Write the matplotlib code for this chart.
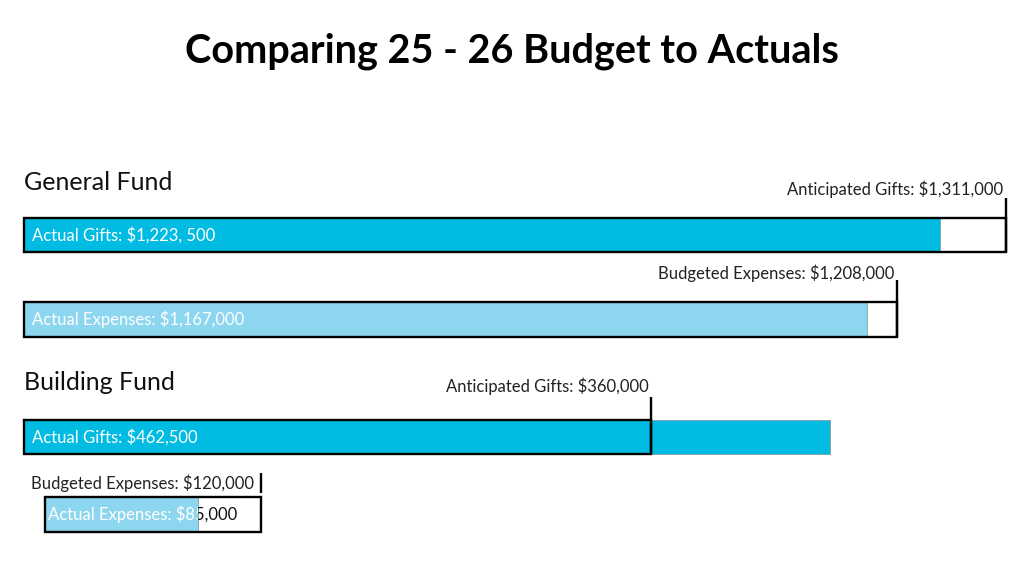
import matplotlib
matplotlib.use("Agg")
import matplotlib.pyplot as plt
from matplotlib.patches import Rectangle

# ---- data ----
funds = ["General Fund", "Building Fund"]
target_labels = ["Anticipated Gifts: $1,311,000", "Budgeted Expenses: $1,208,000",
                 "Anticipated Gifts: $360,000", "Budgeted Expenses: $120,000"]
actual_labels = ["Actual Gifts: $1,223, 500", "Actual Expenses: $1,167,000",
                 "Actual Gifts: $462,500", "Actual Expenses: $85,000"]
targets = [1311000, 1208000, 360000, 120000]
actuals = [1223500, 1167000, 462500, 85000]
title = "Comparing 25 - 26 Budget to Actuals"

# ---- layout (pixels) ----
W, H = 1024, 576
row_left = [24, 24, 24, 45]
row_right = [1006, 897, 830, 261]
row_xmax = [1311000, 1208000, 462500, 120000]
row_top = [218, 302, 420, 497]
row_bot = [252, 337, 454, 532]
marker_span = [(0, 1.59), (0, 1.63), (0, 1.68), (1.11, 1.69)]
label_y = [1.85, 1.83, 2.0, 1.40]
label_dx = [-2, -2, -2, -5]

BRIGHT = "#00BCE3"
LIGHT = "#8DD6EF"
fills = [BRIGHT, LIGHT, BRIGHT, LIGHT]

plt.rcParams["font.family"] = ["Lato", "DejaVu Sans"]
fig = plt.figure(figsize=(W / 100, H / 100), dpi=100)
fig.patch.set_facecolor("white")

fig.text(0.5, 1 - 51 / H, title, ha="center", va="center",
         fontsize=28.5, fontweight="bold", color="black")
fig.text(24 / W, 1 - 182 / H, funds[0], ha="left", va="center", fontsize=18, color="#111111")
fig.text(24 / W, 1 - 383 / H, funds[1], ha="left", va="center", fontsize=18, color="#111111")

for i in range(4):
    l, r, t, b = row_left[i], row_right[i], row_top[i], row_bot[i]
    ax = fig.add_axes([l / W, 1 - b / H, (r - l) / W, (b - t) / H])
    ax.set_xlim(0, row_xmax[i])
    ax.set_ylim(0, 1)
    ax.axis("off")
    # actual fill bar
    bars = ax.barh([0.5], [actuals[i]], height=1.0, left=0, color=fills[i],
                   edgecolor="#8a9aa0", linewidth=0.6, clip_on=False, zorder=2)
    fill_patch = bars.patches[0]
    # target outline box
    ax.add_patch(Rectangle((0, 0), targets[i], 1, facecolor="none", edgecolor="black",
                           linewidth=1.7, clip_on=False, zorder=3))
    # target marker line
    y0, y1 = marker_span[i]
    ax.plot([targets[i], targets[i]], [y0, y1], color="black", lw=1.7,
            clip_on=False, zorder=4, solid_capstyle="butt")
    # target label
    ax.annotate(target_labels[i], xy=(targets[i], label_y[i]), xytext=(label_dx[i], 0),
                textcoords="offset points", ha="right", va="center",
                fontsize=12, color="#222222", annotation_clip=False)
    # actual label: white over the fill, dark beyond it
    tx = 8 * row_xmax[i] / (r - l) if i < 3 else 3 * row_xmax[i] / (r - l)
    outside = Rectangle((actuals[i], -1), 10 * row_xmax[i], 3, transform=ax.transData)
    inside = Rectangle((-row_xmax[i], -1), actuals[i] + row_xmax[i], 3, transform=ax.transData)
    dark = ax.text(tx, 0.5, actual_labels[i], ha="left", va="center",
                   fontsize=12, color="#111111", zorder=5, clip_on=True)
    dark.set_clip_path(outside)
    white = ax.text(tx, 0.5, actual_labels[i], ha="left", va="center",
                    fontsize=12, color="white", zorder=6, clip_on=True)
    white.set_clip_path(inside)

fig.savefig("out.png", dpi=100, facecolor="white")
